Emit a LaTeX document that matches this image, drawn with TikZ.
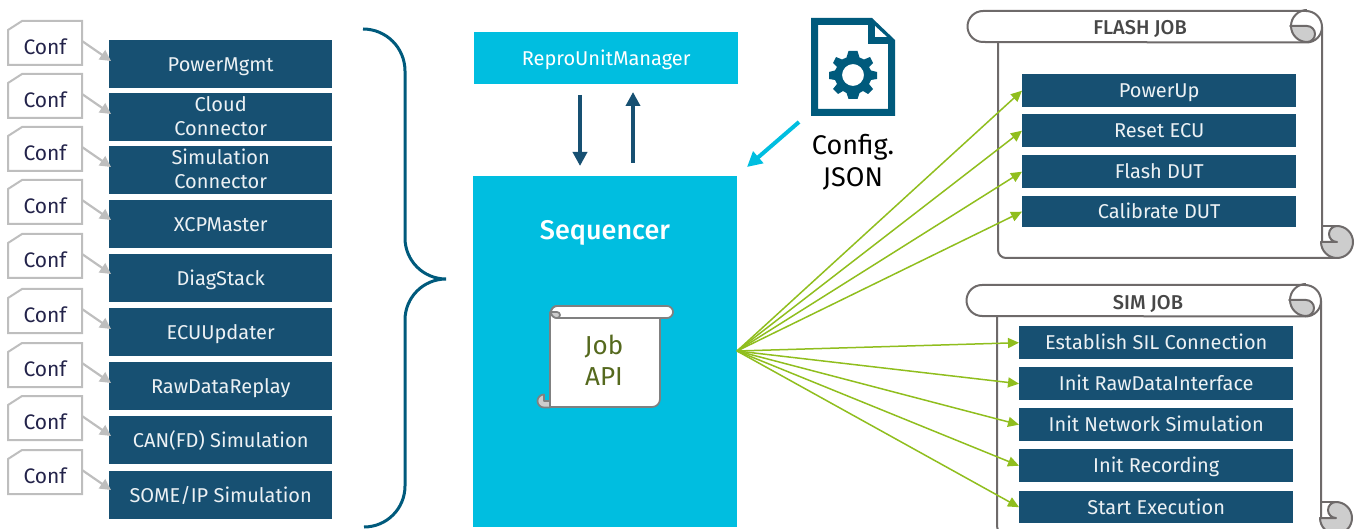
\documentclass[tikz,border=0pt]{standalone}
\usepackage{fontspec}
\setmainfont{Fira Sans}
\newfontfamily\firamed{Fira Sans Medium}
\usetikzlibrary{arrows.meta}
\definecolor{navy}{HTML}{175072}
\definecolor{cyanb}{HTML}{00BEE0}
\definecolor{braceC}{HTML}{005A7C}
\definecolor{greenA}{HTML}{90BE1E}
\definecolor{greyA}{HTML}{BEBEBE}
\definecolor{scrollC}{HTML}{6E6A6A}
\definecolor{curlC}{HTML}{CDCDCD}
\definecolor{olive}{HTML}{55691E}
\definecolor{inkC}{HTML}{23234A}
\tikzset{
  x=1pt,y=-1pt,
  modbox/.style={fill=navy,text=white!92!navy,inner sep=0pt,align=center,font=\fontsize{20}{24}\selectfont,anchor=north west},
  oneline/.style={text height=14pt,text depth=0pt},
  jobbox/.style={modbox,oneline,minimum width=274pt,minimum height=33pt},
  leftbox/.style={modbox,minimum width=223pt,minimum height=48pt},
  confshape/.style={draw=greyA,line width=2pt,fill=white},
  conflabel/.style={text=inkC,font=\fontsize{21}{24}\selectfont,inner sep=0pt},
  confarrow/.style={draw=greyA,line width=2.2pt,-{Triangle[length=11pt,width=11pt]}},
  greenarrow/.style={draw=greenA,line width=1.5pt,-{Triangle[length=11pt,width=10pt]}},
  navyarrow/.style={draw=navy,line width=4pt,-{Triangle[length=14pt,width=14pt]}},
  scrollline/.style={draw=scrollC,line width=2pt,line join=round},
  apiline/.style={draw=gray,line width=1.7pt,line join=round},
}
\newcommand{\confrow}[5][oneline]{%
  \draw[confshape] (8,#3+9) -- (22,#3) -- (82,#3) -- (82,#3+44) -- (8,#3+44) -- cycle;
  \node[conflabel] (c#2) at (45,#3+26) {Conf};
  \node[leftbox,#1] (m#2) at (109,#4) {#5};
  \coordinate (cs#2) at (82,#3+20);
  \coordinate (ce#2) at (111,#3+40);
  \draw[confarrow] (cs#2) -- (ce#2);
}
% #1 header left, #2 top, #3 body left, #4 right, #5 bottom
\newcommand{\jobscroll}[5]{%
  % body
  \draw[scrollline,fill=white] (#3,#2+31) -- (#3,#5-8) arc[start angle=180,end angle=90,radius=8] -- (#4+15,#5) -- (#4,#5-16) -- (#4,#2+16) -- cycle;
  % header band
  \draw[scrollline,fill=white] (#1+16,#2) -- (#4-16,#2) arc[start angle=-90,end angle=0,radius=16] arc[start angle=0,end angle=90,radius=15.5] -- (#1+16,#2+31) arc[start angle=90,end angle=270,radius=15.5] -- cycle;
  % top curl
  \draw[scrollline,fill=curlC] (#4-32,#2+15) -- (#4-15,#2+15) arc[start angle=-90,end angle=90,radius=8] arc[start angle=90,end angle=180,radius=16] -- cycle;
  \draw[scrollline] (#4-31,#2+15) arc[start angle=180,end angle=270,radius=16];
  % bottom curl
  \draw[scrollline,fill=curlC] (#4+15,#5-32) arc[start angle=-90,end angle=90,radius=16] arc[start angle=90,end angle=180,radius=16] -- (#4+15,#5-16) arc[start angle=90,end angle=270,radius=8] -- cycle;
  \draw[scrollline] (#4,#5-32) -- (#4+15,#5-32);
  \draw[scrollline] (#4,#5-32) -- (#4,#5-16);
}
\begin{document}
\begin{tikzpicture}
\useasboundingbox (0,0) rectangle (1357,529);
\clip (0,0) rectangle (1357,529);
% left modules
\confrow{a}{21}{40}{PowerMgmt}
\confrow[]{b}{74}{93}{Cloud\\Connector\rule[-2pt]{0pt}{0pt}}
\confrow[]{c}{127}{146}{Simulation\\Connector\rule[-2pt]{0pt}{0pt}}
\confrow{d}{180}{200}{XCPMaster}
\confrow{e}{234}{254}{DiagStack}
\confrow{f}{289}{308}{ECUUpdater}
\confrow{g}{343}{362}{RawDataReplay}
\confrow{h}{396}{416}{CAN(FD) Simulation}
\confrow{i}{450}{471}{SOME/IP Simulation}
% brace
\draw[draw=braceC,line width=3pt] (363,29) arc[start angle=-90,end angle=0,radius=42] -- (405,238) arc[start angle=180,end angle=90,radius=41] arc[start angle=-90,end angle=-180,radius=41] -- (405,486) arc[start angle=0,end angle=90,radius=41];
% centre
\node[fill=cyanb,oneline,minimum width=264pt,minimum height=52pt,inner sep=0pt,anchor=north west,text=white,font=\fontsize{20}{24}\selectfont] (repro) at (474,32) {ReproUnitManager};
\node[fill=cyanb,minimum width=264pt,minimum height=351pt,inner sep=0pt,anchor=north west] (seq) at (473,176) {};
\node[text=white,font=\fontsize{27}{30}\firamed\selectfont,inner sep=0pt] (seqt) at (605,233) {Sequencer};
\coordinate (d1) at (580,95); \coordinate (d2) at (580,166);
\coordinate (u1) at (633,163); \coordinate (u2) at (633,92);
\draw[navyarrow] (d1) -- (d2);
\draw[navyarrow] (u1) -- (u2);
% job api scroll
\draw[apiline,fill=white] (550,312) -- (550,407) -- (652,407) arc[start angle=90,end angle=0,radius=8] -- (660,312) -- cycle;
\draw[apiline,fill=white] (557,306) -- (667,306) arc[start angle=-90,end angle=90,radius=6] -- (557,318) arc[start angle=90,end angle=270,radius=6];
\draw[apiline,fill=curlC] (551,312) -- (557,312) arc[start angle=-90,end angle=90,radius=3] arc[start angle=90,end angle=180,radius=6] -- cycle;
\draw[apiline] (551,312) arc[start angle=180,end angle=270,radius=6];
\draw[apiline,fill=curlC] (544,394.5) arc[start angle=-90,end angle=-270,radius=6.5] -- (550,407.5) -- (550,401) -- (544,401) -- cycle;
\node[text=olive,font=\fontsize{26}{31}\selectfont,align=center,inner sep=0pt] (jobapi) at (604,360) {Job\\API};
% config icon
\fill[braceC,even odd rule] (811,18) -- (872,18) -- (895,40) -- (895,116) -- (811,116) -- cycle
 (818,25) -- (868,25) -- (868,44) -- (888,44) -- (888,109) -- (818,109) -- cycle;
\fill[braceC] (868,24) -- (874,24) -- (874,38) -- (888,38) -- (888,44) -- (868,44) -- cycle;
\fill[white] (875,26) -- (875,37) -- (887,37) -- cycle;
\fill[braceC,even odd rule]
 (853-4.5,75-24)--(853+4.5,75-24)--(853+6.5,75-17.5)--(853+11,75-15.5)--(853+17,75-18)--(853+20,75-12)--(853+16,75-8)--(853+18,75-4.5)--(853+24,75-3)--(853+24,75+4)--(853+18,75+5)--(853+16,75+9)--(853+20,75+14)--(853+15,75+19)--(853+10,75+16)--(853+6.5,75+18)--(853+4.5,75+24)--(853-4.5,75+24)--(853-6.5,75+18)--(853-10,75+16)--(853-15,75+19)--(853-20,75+14)--(853-16,75+9)--(853-18,75+5)--(853-24,75+4)--(853-24,75-3)--(853-18,75-4.5)--(853-16,75-8)--(853-20,75-12)--(853-17,75-18)--(853-11,75-15.5)--(853-6.5,75-17.5)--cycle
 (864,75) arc[start angle=0,end angle=360,radius=11];
\node[text=black,font=\fontsize{27}{32}\selectfont,align=center,inner sep=0pt] (cfg) at (853,162.5) {Config.\\JSON};
\coordinate (cy1) at (799,122); \coordinate (cy2) at (747,167);
\draw[draw=cyanb,line width=4pt,-{Triangle[length=15pt,width=15pt]}] (cy1) -- (cy2);
% scrolls
\jobscroll{967}{11}{998}{1322}{258}
\node[text=black!72,font=\fontsize{20}{24}\firamed\selectfont,inner sep=0pt] (ft) at (1140,28.5) {FLASH JOB};
\jobscroll{966}{285}{997}{1321}{534}
\node[text=black!72,font=\fontsize{20}{24}\firamed\selectfont,inner sep=0pt] (st) at (1148,303.5) {SIM JOB};
% job boxes
\node[jobbox] (f1) at (1022,74) {PowerUp};
\node[jobbox] (f2) at (1022,114) {Reset ECU};
\node[jobbox] (f3) at (1022,155) {Flash DUT};
\node[jobbox,minimum height=31pt] (f4) at (1022,196) {Calibrate DUT};
\node[jobbox] (s1) at (1019,326) {Establish SIL Connection};
\node[jobbox] (s2) at (1019,367) {Init RawDataInterface};
\node[jobbox] (s3) at (1019,408) {Init Network Simulation};
\node[jobbox] (s4) at (1019,449) {Init Recording};
\node[jobbox,minimum height=32pt] (s5) at (1019,491) {Start Execution};
\coordinate (src) at (737,351);
\foreach \t in {f1,f2,f3,f4,s1,s2,s3,s4,s5} \draw[greenarrow] (src) -- (\t.west);
\end{tikzpicture}
\end{document}
